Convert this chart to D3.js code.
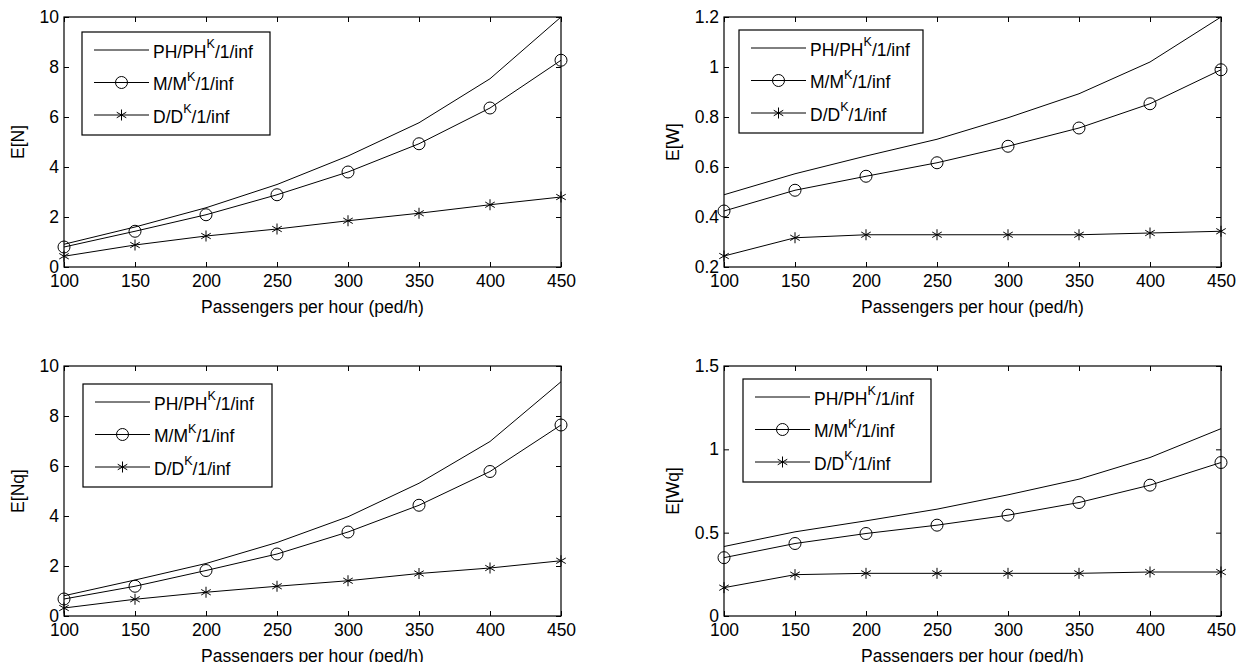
<!DOCTYPE html>
<html>
<head>
<meta charset="utf-8">
<script src="https://cdn.jsdelivr.net/npm/d3@7"></script>
<style>
  html, body { margin: 0; padding: 0; background: #fff; overflow: hidden; }
  svg { display: block; }
  text { font-family: "Liberation Sans", Arial, Helvetica, sans-serif; fill: #000; }
</style>
</head>
<body>
<script>
// ---------------- data ----------------
const passengers = [100, 150, 200, 250, 300, 350, 400, 450];
const xTicks = [100, 150, 200, 250, 300, 350, 400, 450];
const xLabel = "Passengers per hour (ped/h)";

const seriesBase = ["PH/PH", "M/M", "D/D"];
const seriesSup = "K";
const seriesTail = "/1/inf";

// E[N]
const EN_PH = [0.91, 1.60, 2.37, 3.30, 4.44, 5.77, 7.53, 10.0];
const EN_MM = [0.80, 1.43, 2.09, 2.89, 3.80, 4.93, 6.36, 8.27];
const EN_DD = [0.43, 0.88, 1.24, 1.52, 1.85, 2.15, 2.49, 2.80];
const EN_ticks = [0, 2, 4, 6, 8, 10];

// E[W]
const EW_PH = [0.489, 0.573, 0.644, 0.711, 0.797, 0.893, 1.02, 1.20];
const EW_MM = [0.424, 0.507, 0.563, 0.617, 0.683, 0.756, 0.853, 0.989];
const EW_DD = [0.244, 0.317, 0.329, 0.329, 0.329, 0.329, 0.336, 0.343];
const EW_ticks = [0.2, 0.4, 0.6, 0.8, 1, 1.2];

// E[Nq]
const ENq_PH = [0.81, 1.44, 2.10, 2.94, 3.97, 5.31, 6.98, 9.37];
const ENq_MM = [0.68, 1.19, 1.82, 2.48, 3.36, 4.43, 5.78, 7.64];
const ENq_DD = [0.32, 0.67, 0.95, 1.19, 1.41, 1.70, 1.92, 2.21];
const ENq_ticks = [0, 2, 4, 6, 8, 10];

// E[Wq]
const EWq_PH = [0.417, 0.505, 0.571, 0.641, 0.727, 0.821, 0.951, 1.124];
const EWq_MM = [0.350, 0.435, 0.495, 0.545, 0.605, 0.681, 0.785, 0.921];
const EWq_DD = [0.170, 0.248, 0.256, 0.256, 0.256, 0.256, 0.264, 0.264];
const EWq_ticks = [0, 0.5, 1, 1.5];

// ---------------- layout ----------------
const W = 1249, H = 662;
const PW = 497, PH = 250;
const panels = [
  { ylabel: "E[N]",  ticks: EN_ticks,  series: [EN_PH, EN_MM, EN_DD],    left: 64,  top: 17,  ylabX: 18,  leg: { x: 18, y: 15, w: 188 } },
  { ylabel: "E[W]",  ticks: EW_ticks,  series: [EW_PH, EW_MM, EW_DD],    left: 724, top: 17,  ylabX: 673, leg: { x: 15, y: 13, w: 184 } },
  { ylabel: "E[Nq]", ticks: ENq_ticks, series: [ENq_PH, ENq_MM, ENq_DD], left: 64,  top: 366, ylabX: 18,  leg: { x: 19, y: 18, w: 189 } },
  { ylabel: "E[Wq]", ticks: EWq_ticks, series: [EWq_PH, EWq_MM, EWq_DD], left: 724, top: 366, ylabX: 673, leg: { x: 19, y: 13, w: 188 } }
];
const markers = ["none", "circle", "star"];
const FS = 17.5;
const fmt = d => String(+d.toFixed(2));

const svg = d3.select("body").append("svg").attr("width", W).attr("height", H);

function drawMarker(g, type, cx, cy) {
  if (type === "circle") {
    g.append("circle").attr("cx", cx).attr("cy", cy).attr("r", 6)
      .attr("fill", "none").attr("stroke", "#000").attr("stroke-width", 1);
  } else if (type === "star") {
    const r = 5.5;
    const s = g.append("g").attr("stroke", "#000").attr("stroke-width", 1);
    s.append("line").attr("x1", cx).attr("y1", cy - r).attr("x2", cx).attr("y2", cy + r);
    const dx = r * Math.cos(Math.PI / 6), dy = r * Math.sin(Math.PI / 6);
    s.append("line").attr("x1", cx - dx).attr("y1", cy - dy).attr("x2", cx + dx).attr("y2", cy + dy);
    s.append("line").attr("x1", cx - dx).attr("y1", cy + dy).attr("x2", cx + dx).attr("y2", cy - dy);
  }
}

panels.forEach(p => {
  const g = svg.append("g").attr("transform", `translate(${p.left},${p.top})`);
  const x = d3.scaleLinear().domain([100, 450]).range([0, PW]);
  const y = d3.scaleLinear().domain(d3.extent(p.ticks)).range([PH, 0]);

  const ax = g.append("g").attr("transform", `translate(0,${PH})`)
    .call(d3.axisBottom(x).tickValues(xTicks).tickSizeInner(-5).tickSizeOuter(0).tickPadding(8).tickFormat(d3.format("d")));
  const ay = g.append("g")
    .call(d3.axisLeft(y).tickValues(p.ticks).tickSizeInner(-5).tickSizeOuter(0).tickPadding(5).tickFormat(fmt));
  const at = g.append("g")
    .call(d3.axisTop(x).tickValues(xTicks).tickSizeInner(-5).tickSizeOuter(0).tickFormat(""));
  const ar = g.append("g").attr("transform", `translate(${PW},0)`)
    .call(d3.axisRight(y).tickValues(p.ticks).tickSizeInner(-5).tickSizeOuter(0).tickFormat(""));
  [ax, ay, at, ar].forEach(a => {
    a.select(".domain").remove();
    a.selectAll("text").attr("font-size", FS);
    a.attr("font-family", null);
  });

  // series
  const line = d3.line().x((d, i) => x(passengers[i])).y(d => y(d));
  p.series.forEach((vals, si) => {
    g.append("path").datum(vals).attr("d", line)
      .attr("fill", "none").attr("stroke", "#000").attr("stroke-width", 1);
    if (markers[si] !== "none") {
      vals.forEach((v, i) => drawMarker(g, markers[si], x(passengers[i]), y(v)));
    }
  });

  // frame
  g.append("rect").attr("x", 0).attr("y", 0).attr("width", PW).attr("height", PH)
    .attr("fill", "none").attr("stroke", "#000").attr("stroke-width", 1.2);

  // axis titles
  g.append("text").attr("x", PW / 2).attr("y", PH + 46).attr("text-anchor", "middle")
    .attr("font-size", FS).text(xLabel);
  svg.append("text").attr("transform", `translate(${p.ylabX},${p.top + PH / 2}) rotate(-90)`)
    .attr("text-anchor", "middle").attr("dy", "0.35em").attr("font-size", FS).text(p.ylabel);

  // legend
  const L = g.append("g").attr("transform", `translate(${p.leg.x},${p.leg.y})`);
  L.append("rect").attr("width", p.leg.w).attr("height", 103)
    .attr("fill", "#fff").attr("stroke", "#000").attr("stroke-width", 1.2);
  seriesBase.forEach((name, i) => {
    const cy = 18 + i * 32.5;
    L.append("line").attr("x1", 12).attr("x2", 67).attr("y1", cy).attr("y2", cy)
      .attr("stroke", "#000").attr("stroke-width", 1);
    drawMarker(L, markers[i], 39.5, cy);
    const t = L.append("text").attr("x", 71).attr("y", cy).attr("dy", "0.45em").attr("font-size", FS);
    t.append("tspan").text(name);
    t.append("tspan").attr("font-size", FS * 0.72).attr("dy", "-0.75em").text(seriesSup);
    t.append("tspan").attr("dy", "0.54em").text(seriesTail);
  });
});
</script>
</body>
</html>
